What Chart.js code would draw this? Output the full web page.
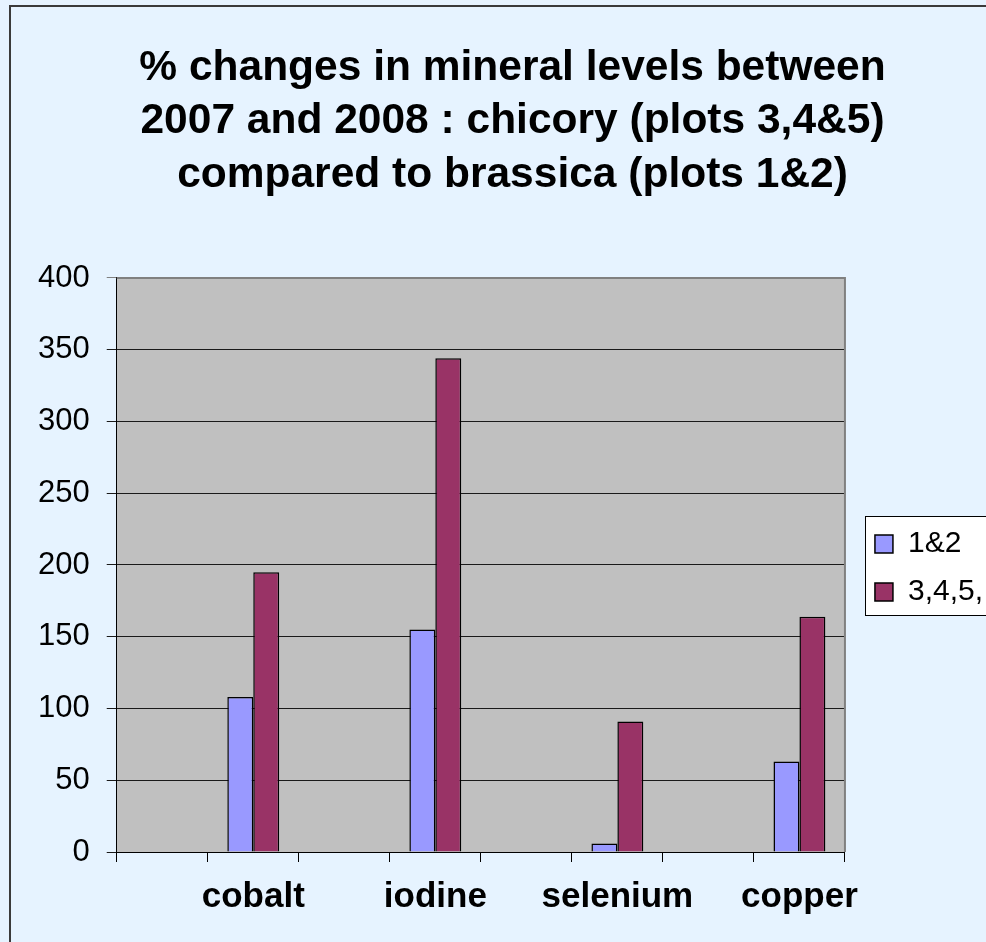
<!DOCTYPE html>
<html lang="en">
<head>
<meta charset="UTF-8">
<title>% changes in mineral levels between 2007 and 2008</title>
<script src="https://cdn.jsdelivr.net/npm/chart.js@4.4.1/dist/chart.umd.min.js"></script>
<style>
    html, body {
        margin: 0;
        padding: 0;
        overflow: hidden;
        background: #e6f3ff;
    }

    .moldura {
        position: absolute;
        left: 9px;
        top: 5px;
        width: 1100px;
        height: 1100px;
        border-left: 2px solid #3a3a3a;
        border-top: 2px solid #3a3a3a;
    }

    #grafico {
        position: absolute;
        left: 0;
        top: 0;
    }
</style>
</head>
<body>
<div class="moldura"></div>
<!-- o original esta cortado a direita, por isso o canvas e mais largo que a janela -->
<canvas id="grafico" width="1004" height="942"></canvas>
<script>
// dados
const minerals = ["cobalt", "iodine", "selenium", "copper"];
const plots12 = [108, 155, 6, 63];
const plots345 = [195, 344, 91, 164];
const seriesNames = ["1&2", "3,4,5,"];
const titleLines = [
    "% changes in mineral levels between",
    "2007 and 2008 : chicory (plots 3,4&5)",
    "compared to brassica (plots 1&2)"
];
const yAxisMax = 400;
const yAxisStep = 50;

// o original tem uma categoria vazia antes de cada mineral
const labels = minerals.flatMap(function (nome) { return ["", nome]; });
const serie12 = plots12.flatMap(function (v) { return [null, v]; });
const serie345 = plots345.flatMap(function (v) { return [null, v]; });

const fonte = "'Liberation Sans', Arial, sans-serif";

const plotArea = {
    id: "plotArea",
    beforeDraw: function (chart) {
        const ctx = chart.ctx;
        const area = chart.chartArea;
        ctx.save();
        ctx.fillStyle = "#c0c0c0";
        ctx.fillRect(area.left, area.top, area.right - area.left, area.bottom - area.top);

        // caixa da legenda
        const boxes = chart.legend.legendHitBoxes;
        if (boxes && boxes.length > 0) {
            const first = boxes[0];
            const last = boxes[boxes.length - 1];
            const x = Math.round(first.left - 10) + 0.5;
            const y = Math.round(first.top - 13) + 0.5;
            const h = Math.round(last.top + last.height + 8) - Math.round(first.top - 13);
            ctx.fillStyle = "#ffffff";
            ctx.fillRect(x, y, chart.width, h);
            ctx.strokeStyle = "#000000";
            ctx.lineWidth = 1;
            ctx.strokeRect(x, y, chart.width, h);
        }
        ctx.restore();
    },
    beforeDatasetsDraw: function (chart) {
        const ctx = chart.ctx;
        const area = chart.chartArea;
        ctx.save();
        ctx.strokeStyle = "#808080";
        ctx.lineWidth = 2;
        ctx.beginPath();
        ctx.moveTo(area.left, area.top);
        ctx.lineTo(area.right, area.top);
        ctx.lineTo(area.right, area.bottom);
        ctx.stroke();
        ctx.restore();
    }
};

const legendSpacing = {
    id: "legendSpacing",
    beforeInit: function (chart) {
        const originalFit = chart.legend.fit;
        chart.legend.fit = function () {
            originalFit.bind(chart.legend)();
            this.width += 23;
        };
    },
    afterLayout: function (chart) {
        chart.legend.left += 12;
        chart.legend.right += 12;
        chart.legend.top += 3;
        chart.legend.bottom += 3;
    }
};

new Chart(document.getElementById("grafico"), {
    type: "bar",
    data: {
        labels: labels,
        datasets: [{
            label: seriesNames[0],
            data: serie12,
            backgroundColor: "#9999ff",
            borderColor: "#000000",
            borderWidth: 1.5
        }, {
            label: seriesNames[1],
            data: serie345,
            backgroundColor: "#993366",
            borderColor: "#000000",
            borderWidth: 1.5
        }]
    },
    options: {
        responsive: false,
        animation: false,
        categoryPercentage: 0.57,
        barPercentage: 1,
        layout: {
            padding: {
                left: 21,
                right: 0,
                top: 0,
                bottom: 10
            }
        },
        plugins: {
            title: {
                display: true,
                text: titleLines,
                color: "#000000",
                font: {
                    family: fonte,
                    size: 42.5,
                    weight: "bold",
                    lineHeight: 1.25
                },
                padding: {
                    top: 42,
                    bottom: 76.6
                }
            },
            legend: {
                position: "right",
                fullSize: false,
                labels: {
                    boxWidth: 18,
                    boxHeight: 18,
                    padding: 18,
                    color: "#000000",
                    font: {
                        family: fonte,
                        size: 30
                    }
                }
            },
            tooltip: {
                enabled: false
            }
        },
        scales: {
            x: {
                grid: {
                    drawOnChartArea: false,
                    offset: true,
                    color: "#000000",
                    tickLength: 10
                },
                border: {
                    color: "#000000",
                    width: 1
                },
                ticks: {
                    color: "#000000",
                    padding: 14,
                    autoSkip: false,
                    maxRotation: 0,
                    font: {
                        family: fonte,
                        size: 35,
                        weight: "bold"
                    }
                }
            },
            y: {
                min: 0,
                max: yAxisMax,
                grid: {
                    color: function (c) {
                        return c.tick && c.tick.value === yAxisMax ? "#808080" : "#1a1a1a";
                    },
                    tickLength: 10
                },
                border: {
                    color: "#000000",
                    width: 1
                },
                ticks: {
                    stepSize: yAxisStep,
                    color: "#000000",
                    padding: 17,
                    font: {
                        family: fonte,
                        size: 31
                    }
                }
            }
        }
    },
    plugins: [plotArea, legendSpacing]
});
</script>
</body>
</html>
